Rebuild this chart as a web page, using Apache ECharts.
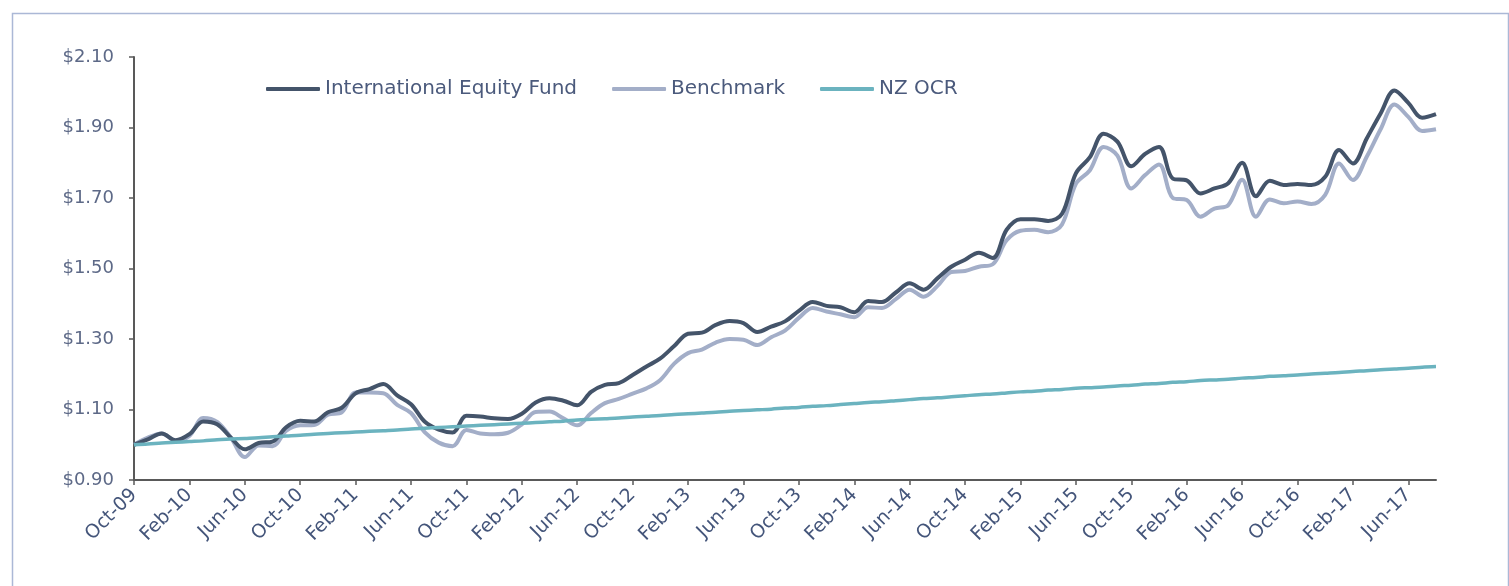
<!DOCTYPE html>
<html>
<head>
<meta charset="utf-8">
<script src="https://cdn.jsdelivr.net/npm/echarts@6/dist/echarts.min.js"></script>
<style>
  html, body { margin: 0; padding: 0; background: #fff; }
  #mychart { width: 1509px; height: 586px; }
</style>
</head>
<body>
<div id="mychart"></div>
<script>
// monthly, Oct-09 .. Aug-17
const months = [
  'Oct-09', 'Nov-09', 'Dec-09',
  'Jan-10', 'Feb-10', 'Mar-10', 'Apr-10', 'May-10', 'Jun-10', 'Jul-10', 'Aug-10', 'Sep-10', 'Oct-10', 'Nov-10', 'Dec-10',
  'Jan-11', 'Feb-11', 'Mar-11', 'Apr-11', 'May-11', 'Jun-11', 'Jul-11', 'Aug-11', 'Sep-11', 'Oct-11', 'Nov-11', 'Dec-11',
  'Jan-12', 'Feb-12', 'Mar-12', 'Apr-12', 'May-12', 'Jun-12', 'Jul-12', 'Aug-12', 'Sep-12', 'Oct-12', 'Nov-12', 'Dec-12',
  'Jan-13', 'Feb-13', 'Mar-13', 'Apr-13', 'May-13', 'Jun-13', 'Jul-13', 'Aug-13', 'Sep-13', 'Oct-13', 'Nov-13', 'Dec-13',
  'Jan-14', 'Feb-14', 'Mar-14', 'Apr-14', 'May-14', 'Jun-14', 'Jul-14', 'Aug-14', 'Sep-14', 'Oct-14', 'Nov-14', 'Dec-14',
  'Jan-15', 'Feb-15', 'Mar-15', 'Apr-15', 'May-15', 'Jun-15', 'Jul-15', 'Aug-15', 'Sep-15', 'Oct-15', 'Nov-15', 'Dec-15',
  'Jan-16', 'Feb-16', 'Mar-16', 'Apr-16', 'May-16', 'Jun-16', 'Jul-16', 'Aug-16', 'Sep-16', 'Oct-16', 'Nov-16', 'Dec-16',
  'Jan-17', 'Feb-17', 'Mar-17', 'Apr-17', 'May-17', 'Jun-17', 'Jul-17', 'Aug-17'
];

const fundValues = [
  1.000, 1.015, 1.032,
  1.013, 1.030, 1.066, 1.058, 1.020, 0.987, 1.005, 1.009, 1.050, 1.068, 1.066, 1.092,
  1.105, 1.146, 1.158, 1.172, 1.140, 1.115, 1.065, 1.043, 1.035, 1.082, 1.080, 1.075,
  1.073, 1.088, 1.120, 1.132, 1.125, 1.112, 1.150, 1.170, 1.175, 1.198, 1.222, 1.245,
  1.280, 1.315, 1.318, 1.340, 1.351, 1.345, 1.320, 1.335, 1.350, 1.380, 1.405, 1.394,
  1.390, 1.376, 1.408, 1.405, 1.432, 1.458, 1.440, 1.472, 1.505, 1.525, 1.545, 1.530,
  1.610, 1.640, 1.640, 1.635, 1.655, 1.770, 1.815, 1.882, 1.860, 1.790, 1.825, 1.845,
  1.755, 1.750, 1.713, 1.727, 1.742, 1.800, 1.705, 1.749, 1.737, 1.740, 1.737, 1.760,
  1.836, 1.798, 1.869, 1.940, 2.005, 1.970, 1.928, 1.938
];

const benchmarkValues = [
  1.000, 1.020, 1.032,
  1.012, 1.025, 1.076, 1.065, 1.020, 0.965, 0.998, 0.996, 1.040, 1.055, 1.056, 1.085,
  1.092, 1.148, 1.148, 1.146, 1.113, 1.090, 1.035, 1.006, 0.996, 1.042, 1.032, 1.030,
  1.034, 1.058, 1.093, 1.094, 1.075, 1.055, 1.090, 1.118, 1.130, 1.145, 1.160, 1.184,
  1.230, 1.260, 1.270, 1.290, 1.300, 1.298, 1.283, 1.305, 1.324, 1.360, 1.388, 1.378,
  1.370, 1.362, 1.390, 1.388, 1.413, 1.440, 1.420, 1.450, 1.490, 1.493, 1.505, 1.512,
  1.580, 1.607, 1.610, 1.603, 1.625, 1.740, 1.778, 1.845, 1.820, 1.727, 1.765, 1.795,
  1.700, 1.694, 1.647, 1.670, 1.680, 1.752, 1.647, 1.696, 1.685, 1.690, 1.683, 1.709,
  1.798, 1.751, 1.817, 1.895, 1.965, 1.930, 1.890, 1.895
];

const ocrValues = [
  1.000, 1.002, 1.005,
  1.007, 1.009, 1.011, 1.014, 1.016, 1.018, 1.020, 1.023, 1.025, 1.027, 1.030, 1.032,
  1.034, 1.036, 1.038, 1.040, 1.042, 1.045, 1.047, 1.049, 1.051, 1.053, 1.055, 1.057,
  1.059, 1.061, 1.063, 1.065, 1.067, 1.070, 1.072, 1.074, 1.076, 1.079, 1.081, 1.083,
  1.086, 1.088, 1.090, 1.092, 1.095, 1.097, 1.099, 1.101, 1.104, 1.106, 1.109, 1.111,
  1.114, 1.117, 1.120, 1.122, 1.125, 1.128, 1.131, 1.133, 1.136, 1.139, 1.142, 1.144,
  1.147, 1.150, 1.152, 1.155, 1.157, 1.160, 1.162, 1.164, 1.167, 1.169, 1.172, 1.174,
  1.177, 1.179, 1.182, 1.184, 1.186, 1.189, 1.191, 1.194, 1.196, 1.198, 1.201, 1.203,
  1.205, 1.208, 1.210, 1.213, 1.215, 1.217, 1.220, 1.222
];

const yTicks = [0.9, 1.1, 1.3, 1.5, 1.7, 1.9, 2.1];

let colors = {
  fund: '#44546a',
  benchmark: '#a3aec8',
  ocr: '#6bb3bf',
  axis: '#595959',
  yLabel: '#5d6987',
  xLabel: '#44557a',
  legend: '#4b5a7c',
  frame: '#abb8d6',
};

const FONT = '"Century Gothic", "DejaVu Sans", sans-serif';

let myChart = echarts.init(document.getElementById('mychart'));

let option = {
  animation: false,
  backgroundColor: '#fff',
  graphic: [
    {
      type: 'rect',
      left: 10,
      top: 11,
      shape: { width: 1496, height: 600 },
      style: { fill: 'none', stroke: colors.frame, lineWidth: 1.5 },
      silent: true,
    },
  ],
  grid: {
    left: 134,
    right: 73,
    top: 57,
    bottom: 106,
  },
  legend: {
    left: 266,
    top: 79,
    padding: 0,
    itemWidth: 54,
    itemHeight: 4,
    itemGap: 35,
    icon: 'roundRect',
    textStyle: {
      color: colors.legend,
      fontFamily: FONT,
      fontSize: 20,
    },
    data: ['International Equity Fund', 'Benchmark', 'NZ OCR'],
  },
  xAxis: {
    type: 'category',
    data: months,
    boundaryGap: false,
    axisLine: { lineStyle: { color: colors.axis, width: 2 } },
    axisTick: {
      interval: 3,
      length: 5,
      lineStyle: { color: colors.axis, width: 1.5 },
    },
    axisLabel: {
      interval: 3,
      rotate: 45,
      margin: 12,
      color: colors.xLabel,
      fontFamily: FONT,
      fontSize: 19,
    },
    splitLine: { show: false },
  },
  yAxis: {
    type: 'value',
    min: 0.9,
    max: 2.1,
    axisLine: { show: true, lineStyle: { color: colors.axis, width: 2 } },
    axisTick: {
      show: true,
      length: 5,
      customValues: yTicks,
      lineStyle: { color: colors.axis, width: 1.5 },
    },
    axisLabel: {
      customValues: yTicks,
      margin: 20,
      color: colors.yLabel,
      fontFamily: FONT,
      fontSize: 18,
      formatter: (v) => '$' + v.toFixed(2),
    },
    splitLine: { show: false },
  },
  series: [
    {
      name: 'International Equity Fund',
      type: 'line',
      data: fundValues,
      smooth: 0.35,
      showSymbol: false,
      color: colors.fund,
      lineStyle: { width: 4, color: colors.fund },
      z: 4,
    },
    {
      name: 'Benchmark',
      type: 'line',
      data: benchmarkValues,
      smooth: 0.35,
      showSymbol: false,
      color: colors.benchmark,
      lineStyle: { width: 4, color: colors.benchmark },
      z: 3,
    },
    {
      name: 'NZ OCR',
      type: 'line',
      data: ocrValues,
      smooth: 0.35,
      showSymbol: false,
      color: colors.ocr,
      lineStyle: { width: 3.5, color: colors.ocr },
      z: 5,
    },
  ],
};

myChart.setOption(option);
</script>
</body>
</html>
